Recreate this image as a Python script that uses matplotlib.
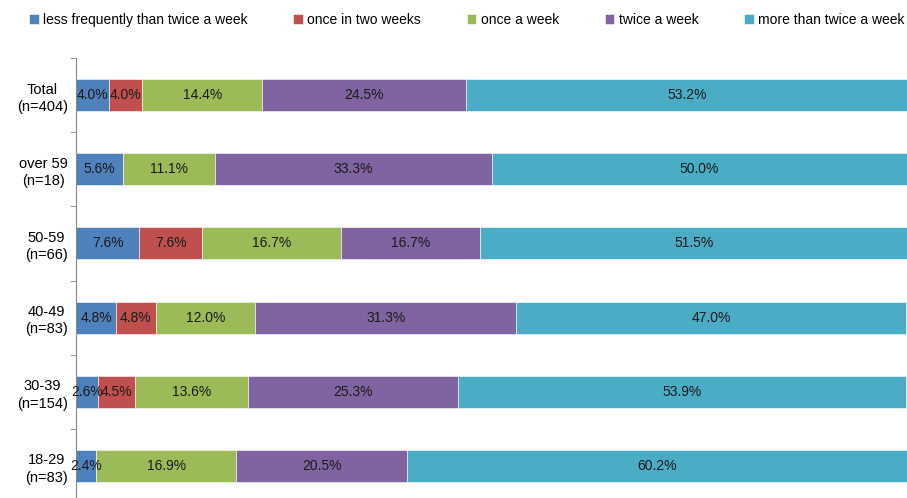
"""Stacked horizontal bars: frequency by age group."""
import matplotlib.pyplot as plt
import numpy as np

categories = ["Total\n(n=404)", "over 59\n(n=18)", "50-59\n(n=66)",
              "40-49\n(n=83)", "30-39\n(n=154)", "18-29\n(n=83)"]
series_names = ["less frequently than twice a week", "once in two weeks",
                "once a week", "twice a week", "more than twice a week"]
less_freq = [4.0, 5.6, 7.6, 4.8, 2.6, 2.4]
two_weeks = [4.0, 0.0, 7.6, 4.8, 4.5, 0.0]
once_week = [14.4, 11.1, 16.7, 12.0, 13.6, 16.9]
twice_week = [24.5, 33.3, 16.7, 31.3, 25.3, 20.5]
more_twice = [53.2, 50.0, 51.5, 47.0, 53.9, 60.2]

colors = ["#4F81BD", "#C0504D", "#9BBB59", "#8064A2", "#4BACC6"]

plt.rcParams["font.family"] = ["Liberation Sans", "DejaVu Sans"]

fig = plt.figure(figsize=(9.07, 4.98), dpi=100)
ax = fig.add_axes([76 / 907, -5 / 498, 831 / 907, 445 / 498])

y = np.arange(len(categories))
left = np.zeros(len(categories))
for name, vals, col in zip(series_names,
                           [less_freq, two_weeks, once_week, twice_week, more_twice],
                           colors):
    vals = np.array(vals)
    ax.barh(y, vals, left=left, height=0.43, color=col, label=name,
            edgecolor="white", linewidth=0.4)
    for yi, (l, v) in enumerate(zip(left, vals)):
        if v > 0:
            ax.text(l + v / 2, yi, f"{v:.1f}%", ha="center", va="center",
                    fontsize=10, color="#1a1a1a")
    left += vals

ax.set_xlim(0, 100)
ax.set_ylim(len(categories) - 0.5, -0.5)
ax.set_yticks(y)
ax.set_yticklabels(categories, fontsize=10.5, linespacing=1.3,
                   multialignment="center")
ax.tick_params(axis="y", length=0, pad=6)
ax.set_yticks(np.arange(len(categories) + 1) - 0.5, minor=True)
ax.tick_params(axis="y", which="minor", length=4, color="#888888")
ax.set_xticks([])
for s in ["top", "right", "bottom"]:
    ax.spines[s].set_visible(False)
ax.spines["left"].set_color("#888888")

fig.legend(loc="upper left", bbox_to_anchor=(0.018, 1.0), ncol=5, frameon=False,
           fontsize=10, handlelength=0.7, handleheight=0.7, handletextpad=0.3,
           columnspacing=3.3)

fig.savefig("out.png", dpi=100)
